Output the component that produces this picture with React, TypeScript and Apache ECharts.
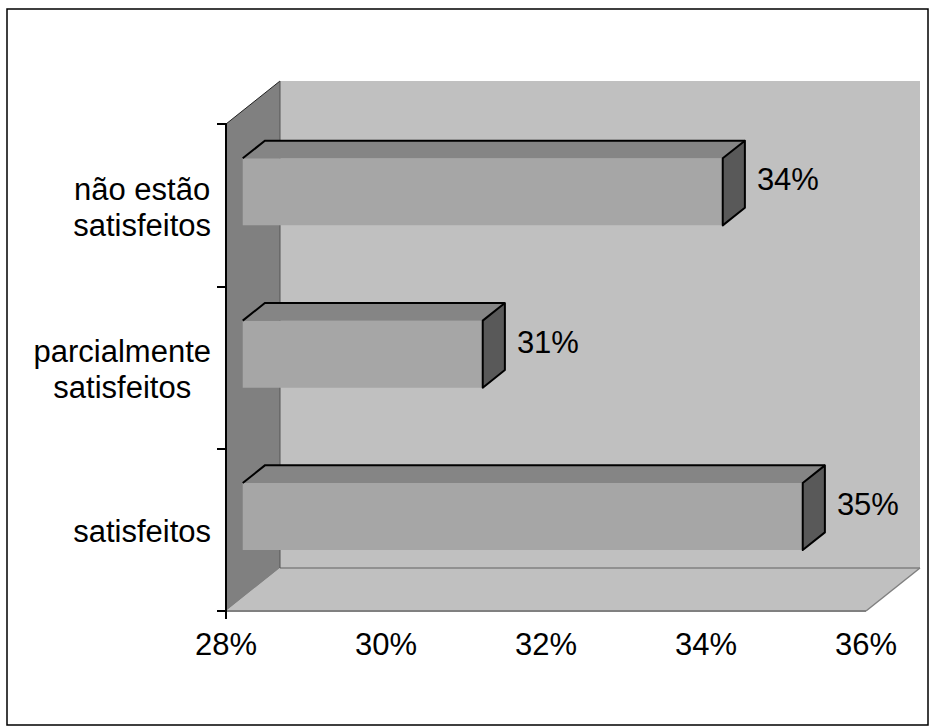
import React, { useEffect, useRef } from "react";
import * as echarts from "echarts";

// ---- data ----
const categories: string[] = ["satisfeitos", "parcialmente\nsatisfeitos", "não estão\nsatisfeitos"];
const values: number[] = [35, 31, 34];
const xMin = 28;
const xMax = 36;
const xStep = 2;

// ---- style ----
const FONT = "'Liberation Sans', Arial, Helvetica, sans-serif";
const FONT_SIZE = 31;
const DEPTH_X = 54;
const DEPTH_Y = -43;
const BAR_FRONT = 0.31;
const BAR_BACK = 0.72;
const BAR_RATIO = 0.413;

function measure(text: string): number {
  const c = document.createElement("canvas").getContext("2d");
  if (!c) return text.length * FONT_SIZE * 0.5;
  c.font = `${FONT_SIZE}px ${FONT}`;
  return c.measureText(text).width;
}

export default function App() {
  const ref = useRef<HTMLDivElement>(null);
  useEffect(() => {
    if (!ref.current) return;
    const chart = echarts.init(ref.current, null, { renderer: "svg" });
    const labelWidths = categories.map((c) => Math.max(...c.split("\n").map(measure)));

    const renderWalls = (params: any, api: any) => {
      const cs = params.coordSys;
      const x0 = cs.x, y0 = cs.y, x1 = cs.x + cs.width, y1 = cs.y + cs.height;
      const dx = DEPTH_X, dy = DEPTH_Y;
      return {
        type: "group",
        children: [
          { type: "rect", shape: { x: x0 + dx, y: y0 + dy, width: cs.width, height: cs.height }, style: { fill: "#C0C0C0" } },
          { type: "polygon", shape: { points: [[x0, y1], [x0 + dx, y1 + dy], [x1 + dx, y1 + dy], [x1, y1]] }, style: { fill: "#C0C0C0" } },
          { type: "polygon", shape: { points: [[x0, y0], [x0 + dx, y0 + dy], [x0 + dx, y1 + dy], [x0, y1]] }, style: { fill: "#808080" } },
          { type: "line", shape: { x1: x0, y1: y1, x2: x1, y2: y1 }, style: { stroke: "#808080", lineWidth: 2 } },
          { type: "line", shape: { x1: x0 + dx, y1: y1 + dy, x2: x1 + dx, y2: y1 + dy }, style: { stroke: "#808080", lineWidth: 1.5 } },
          { type: "line", shape: { x1: x1, y1: y1, x2: x1 + dx, y2: y1 + dy }, style: { stroke: "#808080", lineWidth: 1.5 } },
          { type: "line", shape: { x1: x0, y1: y0, x2: x0 + dx, y2: y0 + dy }, style: { stroke: "#222", lineWidth: 1 } },
          { type: "line", shape: { x1: x0 + dx, y1: y0 + dy, x2: x0 + dx, y2: y1 + dy }, style: { stroke: "#555", lineWidth: 1 } },
          { type: "line", shape: { x1: x0, y1: y1, x2: x0, y2: y1 + 8 }, style: { stroke: "#000", lineWidth: 2 } },
        ],
      };
    };

    const renderBar = (params: any, api: any) => {
      const v = api.value(0);
      const c = api.value(1);
      const start = api.coord([xMin, c]);
      const end = api.coord([v, c]);
      const band = api.size([0, 1])[1];
      const h = band * BAR_RATIO;
      const fx = DEPTH_X * BAR_FRONT, fy = DEPTH_Y * BAR_FRONT;
      const ddx = DEPTH_X * (BAR_BACK - BAR_FRONT), ddy = DEPTH_Y * (BAR_BACK - BAR_FRONT);
      const xl = start[0] + fx, xr = end[0] + fx;
      const cy = start[1] + fy;
      const yt = cy - h / 2, yb = cy + h / 2;
      return {
        type: "group",
        children: [
          { type: "polygon", shape: { points: [[xl, yt], [xr, yt], [xr, yb], [xl, yb]] }, style: { fill: "#A6A6A6" } },
          { type: "polygon", shape: { points: [[xl, yt], [xl + ddx, yt + ddy], [xr + ddx, yt + ddy], [xr, yt]] }, style: { fill: "#858585" } },
          { type: "polyline", shape: { points: [[xl, yt], [xl + ddx, yt + ddy], [xr + ddx, yt + ddy]] }, style: { stroke: "#000", lineWidth: 2, fill: null } },
          { type: "polygon", shape: { points: [[xr, yt], [xr + ddx, yt + ddy], [xr + ddx, yb + ddy], [xr, yb]] }, style: { fill: "#595959", stroke: "#000", lineWidth: 2, lineJoin: "round" } },
          {
            type: "text",
            style: {
              text: `${v}%`, x: xr + ddx + 12, y: cy - 12, align: "left", verticalAlign: "middle",
              fontSize: FONT_SIZE, fontFamily: FONT, fill: "#000",
            },
          },
        ],
      };
    };

    const renderYLabel = (params: any, api: any) => {
      const i = api.value(1);
      const p = api.coord([xMin, i]);
      const w = labelWidths[i];
      return {
        type: "text",
        style: {
          text: categories[i], x: p[0] - 15 - w / 2, y: p[1] + 2, align: "center", verticalAlign: "middle",
          fontSize: FONT_SIZE, fontFamily: FONT, lineHeight: 36, fill: "#000",
        },
      };
    };

    const option: any = {
      animation: false,
      backgroundColor: "#fff",
      grid: { left: 226, right: 64, top: 124, bottom: 116 },
      xAxis: {
        type: "value", min: xMin, max: xMax, interval: xStep,
        axisLine: { show: false }, axisTick: { show: false }, splitLine: { show: false },
        axisLabel: { formatter: "{value}%", fontSize: FONT_SIZE, fontFamily: FONT, color: "#000", margin: 33, verticalAlign: "middle" },
      },
      yAxis: {
        type: "category", data: categories, z: 10,
        axisLine: { show: true, lineStyle: { color: "#000", width: 2 } },
        axisTick: { show: true, length: 9, lineStyle: { color: "#000", width: 2 } },
        axisLabel: { show: false },
        splitLine: { show: false },
      },
      graphic: [
        { type: "rect", shape: { x: 7, y: 9, width: 921, height: 716 }, style: { fill: "none", stroke: "#000", lineWidth: 1.5 }, z: 100 },
      ],
      series: [
        { type: "custom", z: 1, renderItem: renderWalls, data: [[xMin, 0]], encode: { x: 0, y: 1 }, silent: true },
        { type: "custom", z: 2, renderItem: renderBar, data: values.map((v, i) => [v, i]), encode: { x: 0, y: 1 } },
        { type: "custom", z: 3, renderItem: renderYLabel, data: categories.map((_, i) => [xMin, i]), encode: { x: 0, y: 1 }, silent: true },
      ],
    };
    chart.setOption(option);
    return () => chart.dispose();
  }, []);
  return (
    <div
      ref={ref}
      style={{ position: "fixed", left: 0, top: 0, width: 930, height: 727, background: "#fff" }}
    />
  );
}
